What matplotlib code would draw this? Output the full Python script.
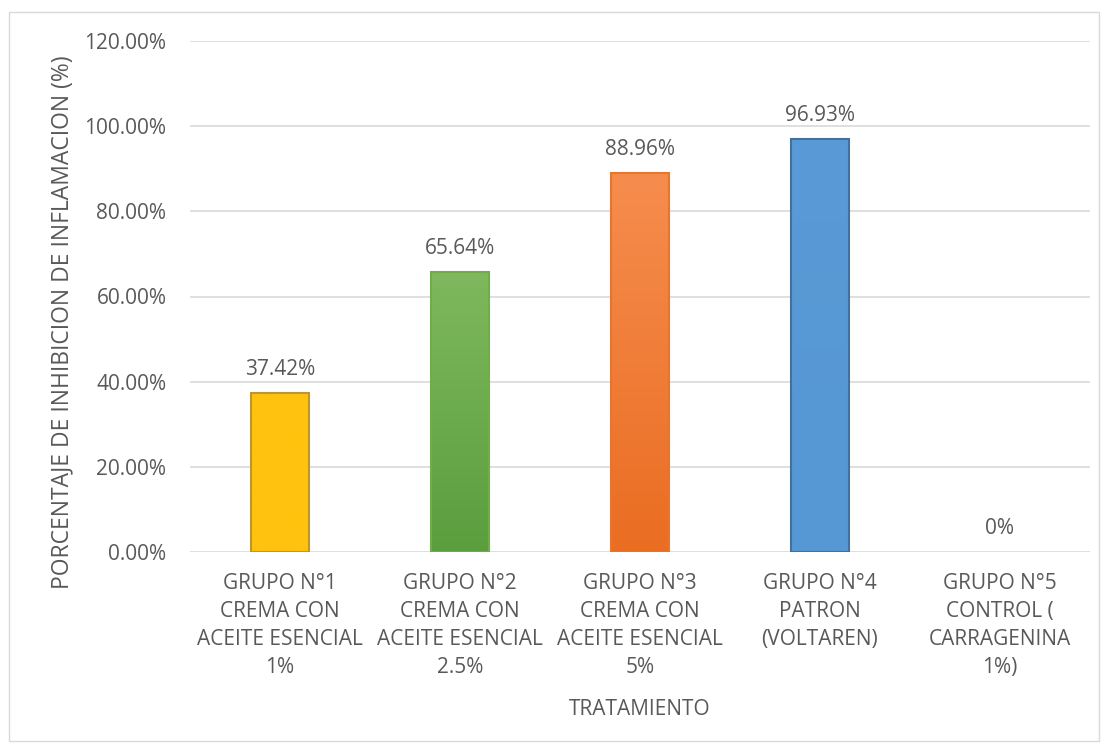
import numpy as np
import matplotlib.pyplot as plt
from matplotlib.colors import LinearSegmentedColormap
from matplotlib.patches import Rectangle

# data
grupos = ['GRUPO N°1\nCREMA CON\nACEITE ESENCIAL\n1%',
          'GRUPO N°2\nCREMA CON\nACEITE ESENCIAL\n2.5%',
          'GRUPO N°3\nCREMA CON\nACEITE ESENCIAL\n5%',
          'GRUPO N°4\nPATRON\n(VOLTAREN)',
          'GRUPO N°5\nCONTROL (\nCARRAGENINA\n1%)']
inhibicion = [37.42, 65.64, 88.96, 96.93, 0]
etiquetas = ['37.42%', '65.64%', '88.96%', '96.93%', '0%']

# (top colour, bottom colour, edge colour)
colores = [('#FFC20E', '#FFC20E', '#BF9530'),
           ('#7FB85E', '#5A9E3E', '#70AD47'),
           ('#F68D4E', '#EA6D22', '#E8742E'),
           ('#5A9AD6', '#5598D3', '#41719C'),
           ('#A5A5A5', '#A5A5A5', '#7F7F7F')]

gris = '#595959'
fs = 15
plt.rcParams['font.family'] = ['Open Sans', 'DejaVu Sans']

fig = plt.figure(figsize=(11.09, 7.51), dpi=100)
ax = fig.add_axes([190/1109, 1 - 552/751, 900/1109, 511/751])

x = np.arange(len(grupos))
bars = ax.bar(x, inhibicion, width=0.32, color='none', zorder=3)

for b, (top, bot, edge), lab in zip(bars, colores, etiquetas):
    x0, w, h = b.get_x(), b.get_width(), b.get_height()
    if h > 0:
        cmap = LinearSegmentedColormap.from_list('g', [bot, top])
        grad = np.linspace(0, 1, 256).reshape(-1, 1)
        im = ax.imshow(grad, cmap=cmap, origin='lower', aspect='auto',
                       extent=[x0, x0 + w, 0, h], zorder=3)
        clip = Rectangle((x0, 0), w, h, transform=ax.transData)
        im.set_clip_path(clip)
        ax.add_patch(Rectangle((x0, 0), w, h, fill=False, edgecolor=edge,
                               linewidth=1.5, zorder=4))
    ax.annotate(lab, (x0 + w / 2, h), xytext=(0, 13), textcoords='offset points',
                ha='center', va='baseline', fontsize=fs, color=gris, zorder=5)

ax.set_xlim(-0.5, len(grupos) - 0.5)
ax.set_ylim(0, 120)
ax.set_yticks(np.arange(0, 121, 20))
ax.set_yticklabels(['%.2f%%' % v for v in np.arange(0, 121, 20)])
ax.set_xticks(x)
ax.set_xticklabels(grupos, linespacing=1.45)
ax.tick_params(axis='both', length=0, labelsize=fs, labelcolor=gris)
ax.tick_params(axis='y', pad=17)
ax.tick_params(axis='x', pad=15)
ax.grid(axis='y', color='#D9D9D9', linewidth=1.2, zorder=0)
ax.set_axisbelow(True)
for s in ax.spines.values():
    s.set_visible(False)

ax.set_xlabel('TRATAMIENTO', fontsize=fs, color=gris)
ax.xaxis.set_label_coords(0.5, -0.288)
ax.set_ylabel('PORCENTAJE DE INHIBICION DE INFLAMACION (%)', fontsize=16.5,
              color=gris)
ax.yaxis.set_label_coords(-0.128, 0.45)

# outer chart border
fig.patches.append(Rectangle((9/1109, 1 - 741/751), 1090/1109, 729/751,
                             transform=fig.transFigure, fill=False,
                             edgecolor='#D9D9D9', linewidth=1))

fig.savefig('out.png', dpi=100)
